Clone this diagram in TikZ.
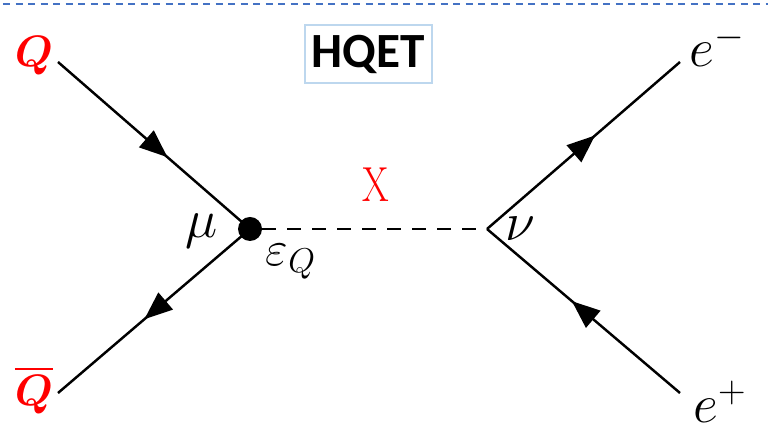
\documentclass[tikz,border=0pt]{standalone}
\usepackage{fix-cm}
\usepackage{amsmath,amssymb,bm}
\usepackage{fontspec}
\newfontfamily\calibri{Carlito}
\usetikzlibrary{arrows.meta,decorations.markings}
\definecolor{red1}{RGB}{255,0,0}
\definecolor{blue1}{RGB}{68,114,196}
\definecolor{lightblue1}{RGB}{189,215,238}

\tikzset{
  fermion/.style={line width=1.4pt, postaction={decorate},
    decoration={markings, mark=at position #1 with
      {\arrow{Triangle[length=0.56cm,width=0.44cm]}}}},
  lbl/.style={inner sep=0pt, font=\fontsize{31}{36}\selectfont},
  vdot/.style={circle, fill=black, minimum size=0.48cm, inner sep=0pt}
}

\begin{document}
\begin{tikzpicture}
\useasboundingbox (0,0) rectangle (15.36,8.64);

% top rule
\draw[blue1, line width=1.2pt, dash pattern=on 0.14cm off 0.11cm] (0.06,8.56) -- (15.36,8.56);

% title box
\node[draw=lightblue1, line width=1.5pt, minimum width=2.54cm, minimum height=1.16cm,
  font=\calibri\bfseries\fontsize{28}{32}\selectfont] (hqet) at (7.37,7.56) {HQET};

% end points of the lines
\coordinate (qin)  at (1.16,7.40);
\coordinate (qbar) at (1.16,0.78);
\coordinate (em)   at (13.60,7.40);
\coordinate (ep)   at (13.60,0.78);
\coordinate (vl)   at (5.00,4.06);
\coordinate (vr)   at (9.74,4.06);

% quark side
\draw[fermion=0.57] (qin) -- (vl);
\draw[fermion=0.55] (vl) -- (qbar);

% lepton side
\draw[fermion=0.56] (vr) -- (em);
\draw[fermion=0.56] (ep) -- (vr);

% mediator
\node[vdot] (dot) at (vl) {};
\draw[line width=1.4pt, dash pattern=on 0.28cm off 0.22cm] (dot) -- (vr);
\node[red1, font=\fontsize{28}{32}\selectfont] (X) at (7.52,4.94) {\scalebox{0.78}[1]{X}};

% labels
\node[lbl, red1, font=\fontsize{25}{28}\selectfont] (Q) at (0.68,7.52) {$\boldsymbol{Q}$};
\node[lbl, red1, font=\fontsize{25}{28}\selectfont] (Qb) at (0.68,0.84) {$\overline{\boldsymbol{Q}}$};
\node[lbl] (mu) at (4.04,4.02) {$\mu$};
\node[lbl, font=\fontsize{28}{32}\selectfont] (eps) at (5.82,3.40) {$\varepsilon_Q$};
\node[lbl] (nu) at (10.40,4.06) {$\nu$};
\node[lbl] (eminus) at (14.34,7.72) {$e^-$};
\node[lbl] (eplus) at (14.40,0.60) {$e^+$};

\end{tikzpicture}
\end{document}
